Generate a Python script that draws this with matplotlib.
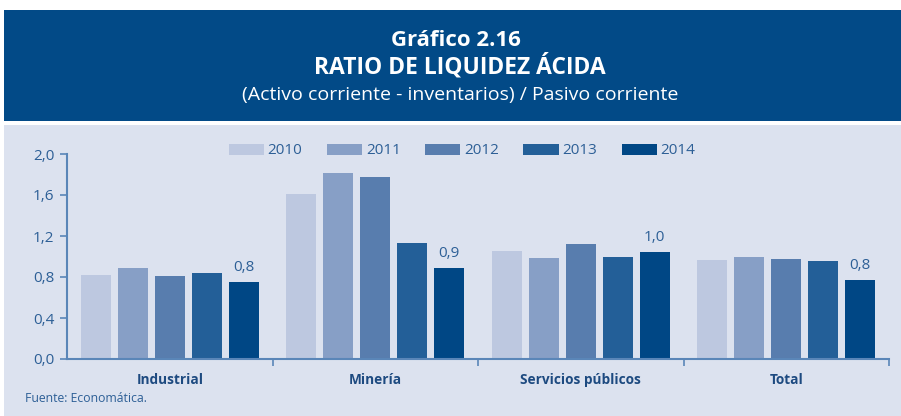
import matplotlib
matplotlib.use("Agg")
import matplotlib.pyplot as plt
from matplotlib.patches import Rectangle, Patch
import numpy as np

categories = ["Industrial", "Minería", "Servicios públicos", "Total"]
years = ["2010", "2011", "2012", "2013", "2014"]
values = {
    "2010": [0.82, 1.61, 1.05, 0.97],
    "2011": [0.89, 1.81, 0.99, 1.00],
    "2012": [0.81, 1.78, 1.12, 0.98],
    "2013": [0.84, 1.13, 1.00, 0.96],
    "2014": [0.75, 0.89, 1.04, 0.77],
}
labels_2014 = ["0,8", "0,9", "1,0", "0,8"]
yticks = [0.0, 0.4, 0.8, 1.2, 1.6, 2.0]
ytick_labels = ["0,0", "0,4", "0,8", "1,2", "1,6", "2,0"]

colors = ["#bdc8e0", "#879fc6", "#587dae", "#235f98", "#004785"]
axis_color = "#5a86b8"
text_color = "#2d5f96"
dark_text = "#1d4a80"

plt.rcParams['font.family'] = ['Open Sans', 'DejaVu Sans']

W, H = 901, 416
fig = plt.figure(figsize=(W/100, H/100), dpi=100)
fig.patch.set_facecolor("white")

# header and panel backgrounds
fig.add_artist(Rectangle((4/W, 1-120.5/H), (W-4)/W, 110.5/H, transform=fig.transFigure,
                         facecolor="#024a87", edgecolor="none", zorder=0))
fig.add_artist(Rectangle((4/W, 0), (W-4)/W, 1-125/H, transform=fig.transFigure,
                         facecolor="#dce2ef", edgecolor="none", zorder=0))

fig.text(456/W, 1-40/H, "Gráfico 2.16", ha="center", va="center", color="white",
         fontsize=16, fontweight="bold")
fig.text(460/W, 1-67/H, "RATIO DE LIQUIDEZ ÁCIDA", ha="center", va="center", color="white",
         fontsize=16.5, fontweight="bold")
fig.text(460/W, 1-95/H, "(Activo corriente - inventarios) / Pasivo corriente", ha="center",
         va="center", color="white", fontsize=14)

ax = fig.add_axes([67/W, 1-359/H, 822/W, 205/H])
ax.set_facecolor("none")

x = np.arange(len(categories))
step = 0.18
width = 0.146
for i, y in enumerate(years):
    ax.bar(x + (i-2)*step, values[y], width=width, color=colors[i], label=y, zorder=2)

for j, lab in enumerate(labels_2014):
    ax.annotate(lab, (x[j] + 2*step, values["2014"][j]), xytext=(0, 5),
                textcoords="offset points", ha="center", va="bottom",
                color=text_color, fontsize=11)

ax.set_xlim(-0.5, 3.5)
ax.set_ylim(0, 2.0)
ax.set_yticks(yticks)
ax.set_yticklabels(ytick_labels, color=text_color, fontsize=11)
ax.set_xticks(x)
ax.set_xticklabels(categories, fontweight="bold", color=dark_text, fontsize=9.8)
ax.tick_params(axis="x", which="major", length=0, pad=10)
ax.set_xticks([0.5, 1.5, 2.5, 3.5], minor=True)
ax.tick_params(axis="x", which="minor", length=5, color=axis_color, width=1.2, direction="out")
ax.tick_params(axis="y", length=5, color=axis_color, width=1.2, pad=4)

for s in ["top", "right"]:
    ax.spines[s].set_visible(False)
for s in ["left", "bottom"]:
    ax.spines[s].set_color(axis_color)
    ax.spines[s].set_linewidth(1.5)

handles = [Patch(facecolor=c, edgecolor="none") for c in colors]
leg = fig.legend(handles, years, loc="center", bbox_to_anchor=(462/W, 1-151/H), ncol=5,
                 frameon=False, fontsize=11, handlelength=2.3, handleheight=0.75,
                 columnspacing=1.6, handletextpad=0.25)
for t in leg.get_texts():
    t.set_color(text_color)

fig.text(25/W, 1-398/H, "Fuente: Economática.", ha="left", va="center",
         color=text_color, fontsize=8.8)

fig.savefig("out.png", dpi=100, facecolor=fig.get_facecolor())
